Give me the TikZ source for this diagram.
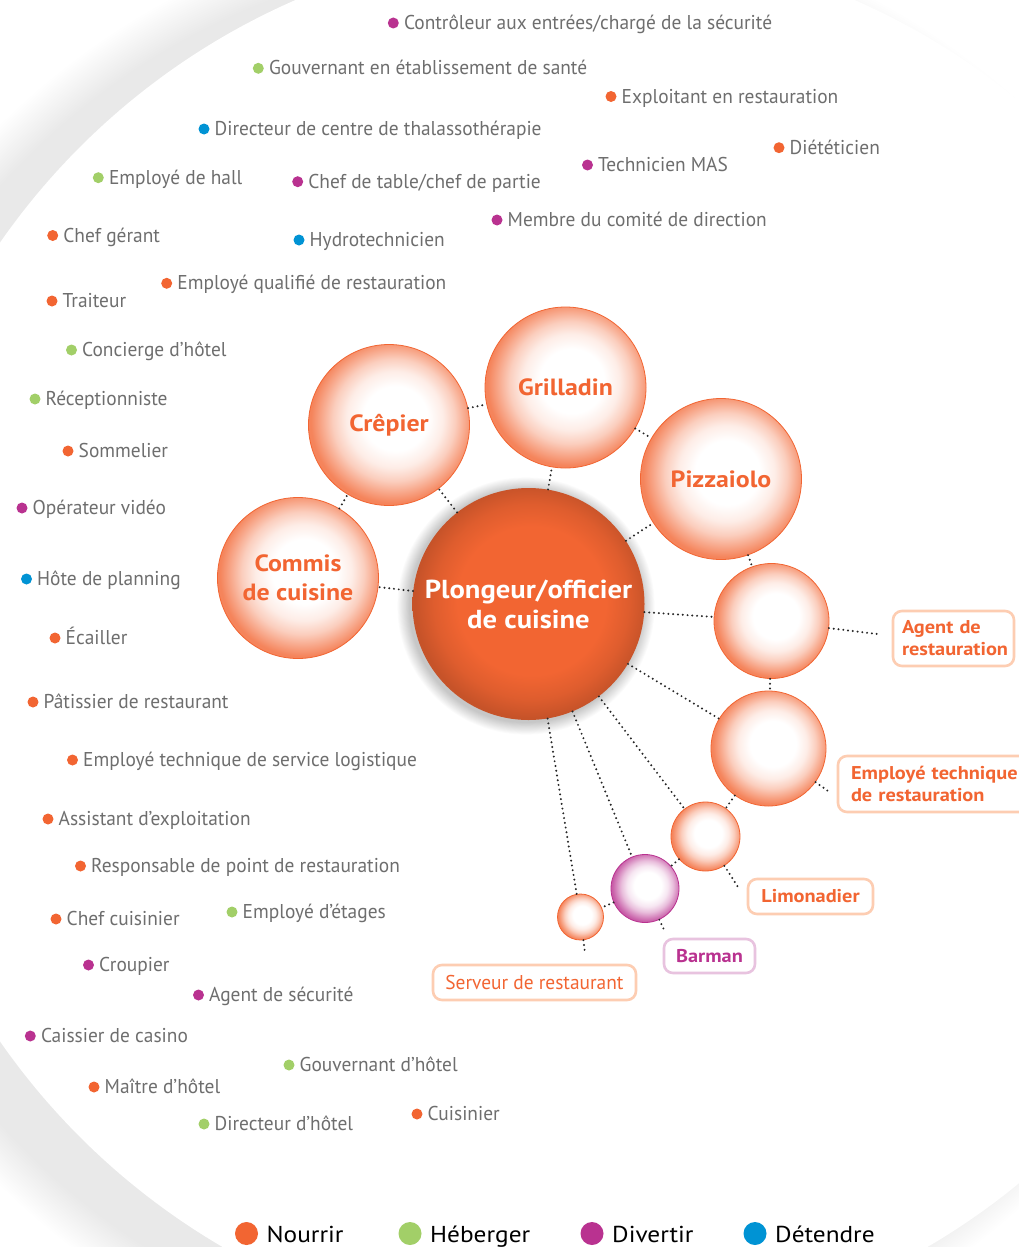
\documentclass[tikz,border=0pt]{standalone}
\usepackage{fontspec}
\setmainfont{PT Sans}[FakeStretch=0.97]
\newfontfamily\widefont{PT Sans}[FakeStretch=1.1]
\usetikzlibrary{calc}

\definecolor{nour}{HTML}{F26532}
\definecolor{heb}{HTML}{A2CF68}
\definecolor{divt}{HTML}{B93290}
\definecolor{dete}{HTML}{0093D4}
\definecolor{txtgray}{HTML}{6E6E6E}
\definecolor{boxO}{HTML}{FDCDB2}
\definecolor{boxP}{HTML}{E8C3DF}

% soft bubbles: white core pushed to the upper right, coloured rim
% (a shaded node spans 25bp of radius)
\pgfdeclareradialshading{bubO}{\pgfpoint{2.5bp}{2.5bp}}{color(0bp)=(white); color(10bp)=(white); color(15bp)=(nour!12); color(19bp)=(nour!32); color(22.5bp)=(nour!58); color(25.5bp)=(nour!80); color(50bp)=(nour!80)}
\pgfdeclareradialshading{bubP}{\pgfpoint{2.5bp}{2.5bp}}{color(0bp)=(white); color(10bp)=(white); color(15bp)=(divt!12); color(19bp)=(divt!32); color(22.5bp)=(divt!58); color(25.5bp)=(divt!80); color(50bp)=(divt!80)}
\pgfdeclareradialshading{mainO}{\pgfpoint{1bp}{1bp}}{color(0bp)=(nour); color(16bp)=(nour); color(21bp)=(nour!92!black); color(25bp)=(nour!82!black); color(50bp)=(nour!82!black)}

\newcommand\itemfont{\fontsize{20}{23}\selectfont}
\newcommand\jobitem[5]{%
  \node[jobdot, fill=#4] (#1) at (#2,#3) {};
  \node[jobtext, anchor=base west] (#1t) at (#2+10.5,#3+6.5) {#5};}

\begin{document}
\begin{tikzpicture}[x=1pt,y=-1pt,
  bub/.style={circle, draw=nour, line width=0.8pt, shading=bubO, inner sep=0,
    text=nour, font=\widefont\fontsize{23.5}{29}\selectfont\bfseries, align=center},
  bubpurple/.style={bub, draw=divt, shading=bubP},
  mainball/.style={circle, minimum size=232pt, inner sep=0, shading=mainO,
    text=white, font=\widefont\fontsize{26}{30}\selectfont\bfseries, align=center},
  tag/.style={draw=boxO, line width=2.6pt, rounded corners=9pt, text=nour,
    font=\widefont\fontsize{18.5}{22}\selectfont\bfseries, align=left, inner ysep=0pt},
  conn/.style={draw=black!85, line width=2.2pt, line cap=round, dash pattern=on 0pt off 4.8pt},
  jobdot/.style={circle, inner sep=0, minimum size=11pt},
  jobtext/.style={text=txtgray, font=\itemfont, inner sep=0},
  legdot/.style={circle, inner sep=0, minimum size=23pt},
  legtext/.style={text=black, font=\widefont\fontsize{23}{26}\selectfont, inner sep=0}]

\useasboundingbox (0,0) rectangle (1018,1247);
\fill[white] (0,0) rectangle (1018,1247);

% large backdrop disc with a soft rim shadow on its left side
\foreach \k in {2,4,...,44}
  \fill[black, opacity=0.003] (522,655) circle[radius=700+\k];
\fill[white] (575,642) circle[radius=700];

% halo under the central disc
\foreach \k in {1,...,14}
  \fill[black, opacity=0.016] (526,606) circle[radius=116+\k*0.9];

% central job
\node[mainball] (main) at (528.5,604) {Plongeur/officier\\de cuisine};

% neighbouring jobs
\node[bub, minimum size=161pt] (commis) at (298,578) {Commis\\de cuisine};
\node[bub, minimum size=161pt] (crepier) at (389,425) {\raisebox{-3pt}{Crêpier}};
\node[bub, minimum size=161pt] (grill) at (565.5,387.5) {\raisebox{-3pt}{Grilladin}};
\node[bub, minimum size=161pt] (pizza) at (721,479) {\raisebox{-1pt}{Pizzaiolo}};
\node[bub, minimum size=115pt] (agent) at (771.5,621) {};
\node[bub, minimum size=115pt] (emptech) at (768.5,748.5) {};
\node[bub, minimum size=69pt] (limo) at (705.5,836.5) {};
\node[bubpurple, minimum size=68pt] (barman) at (645,888.5) {};
\node[bub, minimum size=46pt] (serveur) at (580.5,917) {};

% tags of the small bubbles
\node[tag, minimum height=55pt, text width=103pt, inner xsep=9pt] (agentL) at (953.5,638.5) {Agent de\\restauration};
\node[tag, minimum height=56pt, text width=170pt, inner xsep=13pt] (emptechL) at (936,784) {Employé technique\\de restauration};
\node[tag, minimum height=35pt, minimum width=125pt, align=center] (limoL) at (810.5,896.5) {Limonadier};
\node[tag, draw=boxP, text=divt, minimum height=34pt, minimum width=91pt, align=center] (barmanL) at (709.5,956) {Barman};
\node[tag, font=\fontsize{20}{22}\selectfont, minimum height=35pt, minimum width=203pt, align=center] (serveurL) at (534.5,982.5) {Serveur de restaurant};

\coordinate (agentE) at (877,634);
\coordinate (emptechE) at (828,791);
\coordinate (limoE) at (738,887);
\coordinate (barmanE) at (665,932);
\coordinate (serveurE) at (585,953);

% dotted links
\foreach \b in {commis,crepier,grill,pizza,agent,emptech,limo,barman,serveur}
  \draw[conn] (main) -- (\b);
\draw[conn] (commis) -- (crepier);
\draw[conn] (crepier) -- (grill);
\draw[conn] (grill) -- (pizza);
\draw[conn] (pizza) -- (agent);
\draw[conn] (agent) -- (emptech);
\draw[conn] (emptech) -- (limo);
\draw[conn] (limo) -- (barman);
\draw[conn] (barman) -- (serveur);
\draw[conn] (agent) -- (agentE);
\draw[conn] (emptech) -- (emptechE);
\draw[conn] (limo) -- (limoE);
\draw[conn] (barman) -- (barmanE);
\draw[conn] (serveur) -- (serveurE);

% other jobs of the sector
\jobitem{j1}{393.3}{23}{divt}{Contrôleur aux entrées/chargé de la sécurité}
\jobitem{j2}{258.3}{68.3}{heb}{Gouvernant en établissement de santé}
\jobitem{j3}{611}{96.5}{nour}{Exploitant en restauration}
\jobitem{j4}{204}{129}{dete}{Directeur de centre de thalassothérapie}
\jobitem{j5}{779}{147.7}{nour}{Diététicien}
\jobitem{j6}{587.5}{165}{divt}{Technicien MAS}
\jobitem{j7}{98.3}{177.7}{heb}{Employé de hall}
\jobitem{j8}{297.7}{181.7}{divt}{Chef de table/chef de partie}
\jobitem{j9}{497}{220}{divt}{Membre du comité de direction}
\jobitem{j10}{52.7}{235.5}{nour}{Chef gérant}
\jobitem{j11}{299}{240}{dete}{Hydrotechnicien}
\jobitem{j12}{166.7}{283.3}{nour}{Employé qualifié de restauration}
\jobitem{j13}{52}{301}{nour}{Traiteur}
\jobitem{j14}{71.5}{350}{heb}{Concierge d’hôtel}
\jobitem{j15}{35}{399}{heb}{Réceptionniste}
\jobitem{j16}{68}{451}{nour}{Sommelier}
\jobitem{j17}{22}{508}{divt}{Opérateur vidéo}
\jobitem{j18}{26.5}{579}{dete}{Hôte de planning}
\jobitem{j19}{55}{638}{nour}{Écailler}
\jobitem{j20}{33}{702}{nour}{Pâtissier de restaurant}
\jobitem{j21}{72.5}{760}{nour}{Employé technique de service logistique}
\jobitem{j22}{48}{819}{nour}{Assistant d’exploitation}
\jobitem{j23}{80.5}{866}{nour}{Responsable de point de restauration}
\jobitem{j24}{56}{919}{nour}{Chef cuisinier}
\jobitem{j25}{232}{912}{heb}{Employé d’étages}
\jobitem{j26}{88.5}{965}{divt}{Croupier}
\jobitem{j27}{198.5}{995}{divt}{Agent de sécurité}
\jobitem{j28}{30.3}{1036}{divt}{Caissier de casino}
\jobitem{j29}{289}{1065}{heb}{Gouvernant d’hôtel}
\jobitem{j30}{94}{1087}{nour}{Maître d’hôtel}
\jobitem{j31}{204}{1124}{heb}{Directeur d’hôtel}
\jobitem{j32}{417}{1114}{nour}{Cuisinier}

% legend
\node[legdot, fill=nour] (lg1) at (246.5,1233.5) {};
\node[legtext, anchor=base west] (lg1t) at (266.5,1242.5) {Nourrir};
\node[legdot, fill=heb] (lg2) at (410,1233.5) {};
\node[legtext, anchor=base west] (lg2t) at (430,1242.5) {Héberger};
\node[legdot, fill=divt] (lg3) at (592,1233.5) {};
\node[legtext, anchor=base west] (lg3t) at (612,1242.5) {Divertir};
\node[legdot, fill=dete] (lg4) at (755,1233.5) {};
\node[legtext, anchor=base west] (lg4t) at (775,1242.5) {Détendre};
\end{tikzpicture}
\end{document}
